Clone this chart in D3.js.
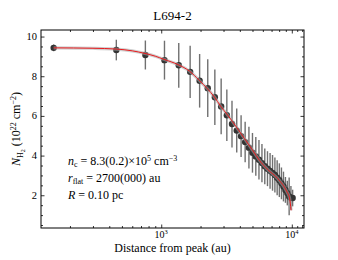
<!DOCTYPE html>
<html>
<head>
<meta charset="utf-8">
<script src="https://cdn.jsdelivr.net/npm/d3@7"></script>
<style>
  body { margin: 0; background: #fff; }
  svg text { font-family: "Liberation Serif", "DejaVu Serif", serif; fill: #000; }
</style>
</head>
<body>
<svg id="chart" width="338" height="260"></svg>
<script>
// distance from peak (au)
var radius = [150, 453, 756, 1059, 1362, 1665, 1968, 2271, 2574, 2877,
  3180, 3483, 3786, 4089, 4392, 4695, 4998, 5301, 5604, 5907,
  6210, 6513, 6816, 7119, 7422, 7725, 8028, 8331, 8634, 8937,
  9240, 9543, 9846, 10149];
// column density N_H2 (1e22 cm^-2)
var column = [9.43, 9.32, 9.07, 8.81, 8.55, 8.22, 7.77, 7.40, 6.94, 6.48,
  6.03, 5.59, 5.26, 4.98, 4.68, 4.40, 4.14, 3.96, 3.79, 3.62,
  3.46, 3.34, 3.23, 3.13, 3.02, 2.88, 2.76, 2.60, 2.44, 2.27,
  2.11, 1.94, 1.87, 1.86];
var columnErr = [0.17, 0.52, 0.73, 0.98, 1.13, 1.32, 1.35, 1.46, 1.40, 1.40,
  1.30, 1.18, 1.11, 1.05, 1.02, 1.05, 1.00, 0.98, 1.00, 0.97,
  0.90, 0.88, 0.90, 0.90, 0.88, 0.88, 0.85, 0.80, 0.75, 0.65,
  0.62, 0.95, 0.60, 0.42];
// fitted profile
var fitRadius = [150, 300, 450, 600, 750, 900, 1050, 1350, 1650, 1950,
  2250, 2550, 2850, 3230, 3800, 4340, 5000, 5655, 6547, 7810,
  9204, 9594, 9876];
var fitColumn = [9.43, 9.41, 9.37, 9.28, 9.15, 9.01, 8.85, 8.58, 8.25, 7.80,
  7.38, 6.96, 6.49, 6.04, 5.40, 4.86, 4.28, 3.76, 3.29, 2.84,
  2.16, 1.88, 1.24];

var xMajor = [1000, 10000];
var xMinor = [200, 300, 400, 500, 600, 700, 800, 900,
  2000, 3000, 4000, 5000, 6000, 7000, 8000, 9000, 11000, 12000];
var yMajor = [2, 4, 6, 8, 10];
var yMinor = [0.5, 1, 1.5, 2.5, 3, 3.5, 4.5, 5, 5.5, 6.5, 7, 7.5, 8.5, 9, 9.5];

var pl = 41, pr = 304, pt = 30, pb = 228;

var svg = d3.select("#chart");

var x = d3.scaleLog().domain([120, 12400]).range([pl, pr]);
var y = d3.scaleLinear().domain([0.35, 10.33]).range([pb, pt]);

// ticks, all pointing inward, on all four sides
function tickAxis(axis, tx, ty, vals, size) {
  var g = svg.append("g").attr("transform", "translate(" + tx + "," + ty + ")")
    .call(axis.tickValues(vals).tickSize(size).tickFormat(""));
  g.select(".domain").remove();
  g.selectAll("line").attr("stroke", "#000").attr("stroke-width", 0.8);
  return g;
}
tickAxis(d3.axisBottom(x), 0, pb, xMajor, -3.5);
tickAxis(d3.axisBottom(x), 0, pb, xMinor, -2);
tickAxis(d3.axisTop(x), 0, pt, xMajor, -3.5);
tickAxis(d3.axisTop(x), 0, pt, xMinor, -2);
tickAxis(d3.axisLeft(y), pl, 0, yMajor, -3.5);
tickAxis(d3.axisLeft(y), pl, 0, yMinor, -2);
tickAxis(d3.axisRight(y), pr, 0, yMajor, -3.5);
tickAxis(d3.axisRight(y), pr, 0, yMinor, -2);

// tick labels
svg.append("g").selectAll("text").data(yMajor).join("text")
  .attr("x", pl - 4).attr("y", function(d) { return y(d) + 3.5; })
  .attr("text-anchor", "end").attr("font-size", 10.5)
  .text(function(d) { return d; });

var xl = svg.append("g").selectAll("text").data(xMajor).join("text")
  .attr("x", function(d) { return x(d); }).attr("y", pb + 10)
  .attr("text-anchor", "middle").attr("font-size", 10);
xl.append("tspan").text("10");
xl.append("tspan").attr("dy", -4).attr("font-size", 6.5)
  .text(function(d) { return Math.round(Math.log10(d)); });

// error bars
svg.append("g").selectAll("line").data(radius).join("line")
  .attr("x1", function(d) { return x(d); })
  .attr("x2", function(d) { return x(d); })
  .attr("y1", function(d, i) { return y(column[i] + columnErr[i]); })
  .attr("y2", function(d, i) { return y(column[i] - columnErr[i]); })
  .attr("stroke", "#707070").attr("stroke-width", 1.4);

// points
svg.append("g").selectAll("circle").data(radius).join("circle")
  .attr("cx", function(d) { return x(d); })
  .attr("cy", function(d, i) { return y(column[i]); })
  .attr("r", 3.2)
  .attr("fill", "#333333");

// fit with its grey band
var line = d3.line()
  .x(function(d) { return x(d[0]); })
  .y(function(d) { return y(d[1]); })
  .curve(d3.curveMonotoneX);
var fit = d3.zip(fitRadius, fitColumn);
svg.append("path").datum(fit).attr("d", line)
  .attr("fill", "none").attr("stroke", "#a8a8a8").attr("stroke-opacity", 0.55)
  .attr("stroke-width", 3.2);
svg.append("path").datum(fit).attr("d", line)
  .attr("fill", "none").attr("stroke", "#e8191c").attr("stroke-width", 1);

// frame
svg.append("rect").attr("x", pl).attr("y", pt)
  .attr("width", pr - pl).attr("height", pb - pt)
  .attr("fill", "none").attr("stroke", "#000").attr("stroke-width", 1);

// title and axis labels
svg.append("text").attr("x", (pl + pr) / 2).attr("y", 20)
  .attr("text-anchor", "middle").attr("font-size", 13).text("L694-2");

svg.append("text").attr("x", (pl + pr) / 2).attr("y", 252)
  .attr("text-anchor", "middle").attr("font-size", 12)
  .text("Distance from peak (au)");

var yl = svg.append("text")
  .attr("transform", "translate(20," + ((pt + pb) / 2) + ") rotate(-90)")
  .attr("text-anchor", "middle").attr("font-size", 12);
yl.append("tspan").attr("font-style", "italic").text("N");
yl.append("tspan").attr("font-size", 8).attr("dy", 3).text("H");
yl.append("tspan").attr("font-size", 6).attr("dy", 1.5).text("2");
yl.append("tspan").attr("dy", -4.5).text(" (10");
yl.append("tspan").attr("font-size", 8).attr("dy", -4).text("22");
yl.append("tspan").attr("dy", 4).text(" cm");
yl.append("tspan").attr("font-size", 8).attr("dy", -4).text("\u22122");
yl.append("tspan").attr("dy", 4).text(")");

// fit parameters
var t1 = svg.append("text").attr("x", 68).attr("y", 165).attr("font-size", 12);
t1.append("tspan").attr("font-style", "italic").text("n");
t1.append("tspan").attr("font-size", 8).attr("dy", 2).text("c");
t1.append("tspan").attr("dy", -2).text(" = 8.3(0.2)\u00d710");
t1.append("tspan").attr("font-size", 8).attr("dy", -4.5).text("5");
t1.append("tspan").attr("dy", 4.5).text(" cm");
t1.append("tspan").attr("font-size", 8).attr("dy", -4.5).text("\u22123");

var t2 = svg.append("text").attr("x", 68).attr("y", 182).attr("font-size", 12);
t2.append("tspan").attr("font-style", "italic").text("r");
t2.append("tspan").attr("font-size", 8).attr("dy", 2).text("flat");
t2.append("tspan").attr("dy", -2).text(" = 2700(000) au");

var t3 = svg.append("text").attr("x", 68).attr("y", 199).attr("font-size", 12);
t3.append("tspan").attr("font-style", "italic").text("R");
t3.append("tspan").text(" = 0.10 pc");
</script>
</body>
</html>
